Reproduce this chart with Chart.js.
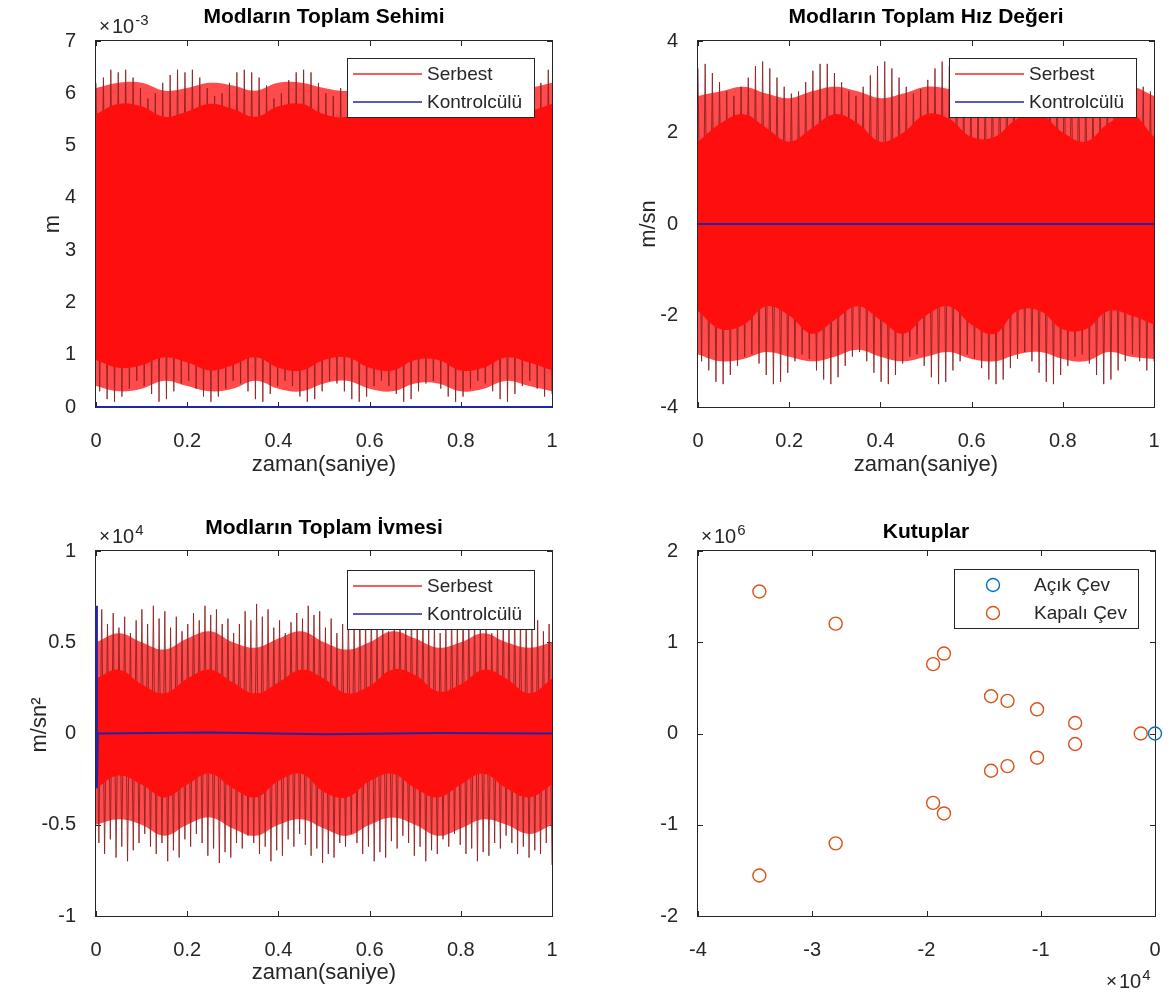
<!DOCTYPE html>
<html>
<head>
<meta charset="utf-8">
<title>Modların Toplam Cevabı</title>
<script src="https://cdn.jsdelivr.net/npm/chart.js@4.4.1/dist/chart.umd.min.js"></script>
<style>
  body { margin: 0; background: #fff; }
  #sahne { position: relative; width: 1169px; height: 999px; }
  #sahne canvas { position: absolute; }
</style>
</head>
<body>
<div id="sahne">
  <canvas id="grafikSehim" width="584" height="500" style="left:0;top:0"></canvas>
  <canvas id="grafikHiz" width="585" height="500" style="left:584px;top:0"></canvas>
  <canvas id="grafikIvme" width="584" height="499" style="left:0;top:500px"></canvas>
  <canvas id="grafikKutup" width="585" height="499" style="left:584px;top:500px"></canvas>
</div>
<script>
// Serbest cevap: her salınımın tepe ve dip değerleri (soldan sağa)
// Sehim (x10^-3 m)
const sehimTepe = [
  6.20, 6.30, 6.45, 6.40, 6.45, 6.30, 6.10, 5.90, 6.00, 6.20,
  6.35, 6.45, 6.40, 6.45, 6.30, 6.10, 5.95, 6.00, 6.20, 6.40,
  6.45, 6.40, 6.30, 6.15, 5.90, 6.00, 6.25, 6.40, 6.45, 6.40,
  6.20, 6.00, 5.95, 6.10, 6.30, 6.45, 6.45, 6.30, 6.10, 5.90,
  6.00, 6.20, 6.40, 6.45, 6.40, 6.25, 6.05, 5.90, 6.05, 6.25,
  6.40, 6.45, 6.35, 6.15, 5.95, 6.00, 6.20, 6.40, 6.45, 6.35,
  6.20, 6.45
];
const sehimDip = [
  0.30, 0.15, 0.10, 0.20, 0.35, 0.50, 0.40, 0.25, 0.10, 0.15,
  0.30, 0.45, 0.50, 0.35, 0.20, 0.10, 0.20, 0.35, 0.50, 0.45,
  0.30, 0.15, 0.10, 0.25, 0.40, 0.50, 0.40, 0.20, 0.10, 0.15,
  0.30, 0.50, 0.45, 0.30, 0.15, 0.10, 0.20, 0.40, 0.50, 0.40,
  0.25, 0.10, 0.15, 0.30, 0.45, 0.50, 0.35, 0.20, 0.10, 0.20,
  0.35, 0.50, 0.45, 0.30, 0.15, 0.10, 0.25, 0.40, 0.50, 0.35,
  0.20, 0.25
];
// Hız (m/sn)
const hizTepe = [
  3.40, 3.50, 3.30, 3.10, 2.90, 2.80, 3.00, 3.20, 3.45, 3.55,
  3.40, 3.20, 3.00, 2.85, 2.90, 3.10, 3.35, 3.50, 3.50, 3.30,
  3.10, 2.90, 2.80, 3.00, 3.25, 3.45, 3.55, 3.40, 3.20, 3.00,
  2.85, 2.95, 3.15, 3.40, 3.55, 3.45, 3.25, 3.05, 2.85, 2.90,
  3.10, 3.35, 3.50, 3.50, 3.30, 3.10, 2.90, 2.80, 3.00, 3.25,
  3.45, 3.55, 3.40, 3.20, 3.00, 2.85, 2.95, 3.15, 3.40, 3.50,
  3.45, 3.25, 3.00, 2.90
];
const hizDip = [
  -3.00, -3.20, -3.45, -3.50, -3.30, -3.10, -2.90, -2.85, -3.05, -3.30,
  -3.50, -3.45, -3.25, -3.00, -2.85, -2.95, -3.20, -3.40, -3.50, -3.35,
  -3.10, -2.90, -2.80, -3.00, -3.25, -3.45, -3.50, -3.30, -3.05, -2.90,
  -2.85, -3.10, -3.35, -3.50, -3.45, -3.20, -3.00, -2.85, -2.95, -3.15,
  -3.40, -3.50, -3.40, -3.15, -2.95, -2.80, -3.00, -3.25, -3.45, -3.50,
  -3.30, -3.10, -2.90, -2.85, -3.05, -3.30, -3.50, -3.40, -3.20, -3.00,
  -2.85, -3.00, -3.20, -3.00
];
// İvme (x10^4 m/sn^2)
const ivmeTepe = [
  0.55, 0.68, 0.60, 0.66, 0.58, 0.64, 0.55, 0.62, 0.68, 0.60,
  0.70, 0.63, 0.67, 0.58, 0.64, 0.56, 0.60, 0.66, 0.62, 0.70,
  0.65, 0.68, 0.60, 0.63, 0.55, 0.60, 0.67, 0.62, 0.71, 0.64,
  0.68, 0.58, 0.62, 0.55, 0.61, 0.66, 0.63, 0.70, 0.65, 0.67,
  0.58, 0.63, 0.55, 0.60, 0.67, 0.62, 0.71, 0.64, 0.68, 0.60,
  0.63, 0.56, 0.60, 0.66, 0.62, 0.70, 0.65, 0.68, 0.59, 0.62,
  0.55, 0.60, 0.67, 0.63, 0.70, 0.64, 0.67, 0.58, 0.62, 0.55,
  0.60, 0.66, 0.62, 0.68, 0.64, 0.66, 0.58, 0.62, 0.56, 0.60
];
const ivmeDip = [
  -0.60, -0.66, -0.58, -0.68, -0.62, -0.70, -0.64, -0.60, -0.55, -0.62,
  -0.66, -0.60, -0.70, -0.64, -0.68, -0.58, -0.62, -0.55, -0.60, -0.67,
  -0.63, -0.71, -0.65, -0.68, -0.60, -0.63, -0.56, -0.60, -0.66, -0.62,
  -0.70, -0.64, -0.67, -0.58, -0.62, -0.55, -0.61, -0.67, -0.63, -0.71,
  -0.66, -0.68, -0.60, -0.62, -0.55, -0.60, -0.66, -0.62, -0.70, -0.65,
  -0.68, -0.59, -0.63, -0.56, -0.60, -0.67, -0.62, -0.70, -0.64, -0.66,
  -0.58, -0.62, -0.55, -0.61, -0.66, -0.63, -0.70, -0.65, -0.67, -0.60,
  -0.63, -0.56, -0.60, -0.66, -0.62, -0.68, -0.64, -0.66, -0.60, -0.72
];

// Yoğun bölgenin kenarları (bantZaman anlarında): koyu kırmızı çekirdek ve açık kırmızı kuşak
const bantZaman = [0, 0.05, 0.1, 0.15, 0.2, 0.25, 0.3, 0.35, 0.4, 0.45, 0.5,
                   0.55, 0.6, 0.65, 0.7, 0.75, 0.8, 0.85, 0.9, 0.95, 1];
const sehimCekirdekUst = [5.6, 5.8, 5.75, 5.55, 5.65, 5.8, 5.7, 5.55, 5.75, 5.8, 5.6, 5.55, 5.75, 5.8, 5.6, 5.6, 5.8, 5.75, 5.55, 5.65, 5.8];
const sehimCekirdekAlt = [0.9, 0.75, 0.8, 0.95, 0.85, 0.7, 0.8, 0.95, 0.75, 0.7, 0.9, 0.95, 0.75, 0.7, 0.9, 0.9, 0.7, 0.75, 0.95, 0.85, 0.7];
const sehimKusakUst = [6.1, 6.2, 6.2, 6.05, 6.1, 6.2, 6.15, 6.05, 6.2, 6.2, 6.1, 6.05, 6.2, 6.2, 6.05, 6.1, 6.2, 6.2, 6.05, 6.1, 6.2];
const sehimKusakAlt = [0.4, 0.3, 0.35, 0.5, 0.4, 0.3, 0.35, 0.5, 0.35, 0.3, 0.45, 0.5, 0.35, 0.3, 0.45, 0.45, 0.3, 0.35, 0.5, 0.4, 0.3];

const hizCekirdekUst = [1.8, 2.2, 2.4, 2.1, 1.8, 2.1, 2.4, 2.2, 1.8, 2.0, 2.4, 2.3, 1.9, 1.9, 2.3, 2.4, 2.0, 1.8, 2.2, 2.4, 1.9];
const hizCekirdekAlt = [-1.9, -2.3, -2.2, -1.8, -2.0, -2.4, -2.1, -1.8, -2.1, -2.4, -2.0, -1.8, -2.2, -2.4, -1.9, -1.9, -2.3, -2.3, -1.9, -2.0, -2.2];
const hizKusakUst = [2.8, 2.9, 3.0, 2.85, 2.75, 2.9, 3.0, 2.9, 2.75, 2.85, 3.0, 2.95, 2.8, 2.8, 2.95, 3.0, 2.85, 2.75, 2.9, 3.0, 2.8];
const hizKusakAlt = [-2.85, -3.0, -2.95, -2.8, -2.9, -3.0, -2.9, -2.75, -2.9, -3.0, -2.9, -2.8, -2.95, -3.0, -2.85, -2.8, -2.95, -3.0, -2.8, -2.9, -2.95];

const ivmeCekirdekUst = [0.3, 0.35, 0.27, 0.22, 0.3, 0.35, 0.28, 0.22, 0.28, 0.35, 0.3, 0.22, 0.26, 0.35, 0.32, 0.23, 0.27, 0.35, 0.3, 0.22, 0.3];
const ivmeCekirdekAlt = [-0.3, -0.23, -0.28, -0.35, -0.28, -0.22, -0.3, -0.35, -0.26, -0.22, -0.32, -0.35, -0.26, -0.22, -0.3, -0.35, -0.28, -0.22, -0.3, -0.35, -0.28];
const ivmeKusakUst = [0.5, 0.55, 0.5, 0.46, 0.52, 0.56, 0.5, 0.47, 0.52, 0.56, 0.5, 0.46, 0.5, 0.56, 0.52, 0.47, 0.5, 0.55, 0.5, 0.47, 0.5];
const ivmeKusakAlt = [-0.5, -0.47, -0.5, -0.56, -0.5, -0.46, -0.52, -0.56, -0.5, -0.47, -0.52, -0.56, -0.5, -0.46, -0.5, -0.56, -0.52, -0.47, -0.5, -0.55, -0.5];

// Kontrolcülü cevap
const kontrolZaman = [0, 0.002, 0.004, 0.25, 0.5, 0.75, 1];
const kontrolSehim = [0, 0, 0, 0, 0, 0, 0];
const kontrolHiz = [0, 0, 0, 0, 0, 0, 0];
const kontrolIvme = [0.7, -0.3, 0, 0.005, -0.004, 0.003, 0];

// Kutuplar (reel, sanal)
const acikReel = [0];
const acikSanal = [0];
const kapaliReel = [-34630, -27950, -19420, -18470, -14350, -12910, -10320, -6990, -1250,
                    -6990, -10320, -12910, -14350, -19420, -18470, -27950, -34630];
const kapaliSanal = [1556000, 1204000, 760000, 876000, 408000, 358000, 265000, 115000, 0,
                     -115000, -265000, -358000, -408000, -760000, -876000, -1204000, -1556000];

const YAZI = '"Liberation Sans", Arial, Helvetica, sans-serif';
const GRI = '#262626';
const KIRMIZI = 'rgb(255,14,14)';
const PEMBE = 'rgb(255,75,75)';
const KOYU_KIRMIZI = 'rgba(140,30,30,0.85)';
const MAVI = '#2424a8';

// tepe ve dipleri sırayla dizerek çizgiyi kur
function salinim(tepe, dip) {
  const n = Math.min(tepe.length, dip.length);
  const pts = [];
  for (let i = 0; i < n; i++) {
    pts.push({ x: (2 * i) / (2 * n - 1), y: tepe[i] });
    pts.push({ x: (2 * i + 1) / (2 * n - 1), y: dip[i] });
  }
  return pts;
}
const eslestir = (xs, ys) => xs.map((x, i) => ({ x, y: ys[i] }));
const yuvarla = v => String(Math.round(v * 1000) / 1000);

function usluYaz(ctx, x, y, us) {
  ctx.textAlign = 'left';
  ctx.textBaseline = 'alphabetic';
  ctx.fillStyle = GRI;
  ctx.font = '19px ' + YAZI;
  ctx.fillText('×', x - 1, y - 1);
  ctx.font = '20px ' + YAZI;
  ctx.fillText('10', x + 12, y);
  const w = ctx.measureText('10').width;
  ctx.font = '15px ' + YAZI;
  ctx.fillText(us, x + 13 + w, y - 8);
}

// MATLAB görünümlü çerçeve, içe dönük tikler, lejant ve yazılar
const matlabSusu = {
  id: 'matlab',
  beforeDatasetsDraw(chart) {
    const { ctx, chartArea: a, scales } = chart;
    const l = Math.round(a.left), r = Math.round(a.right), t = Math.round(a.top), b = Math.round(a.bottom);
    ctx.save();
    ctx.strokeStyle = GRI;
    ctx.lineWidth = 1;
    ctx.beginPath();
    scales.x.ticks.forEach(tk => {
      const px = Math.round(scales.x.getPixelForValue(tk.value)) + 0.5;
      ctx.moveTo(px, b); ctx.lineTo(px, b - 5);
      ctx.moveTo(px, t); ctx.lineTo(px, t + 5);
    });
    scales.y.ticks.forEach(tk => {
      const py = Math.round(scales.y.getPixelForValue(tk.value)) + 0.5;
      ctx.moveTo(l, py); ctx.lineTo(l + 5, py);
      ctx.moveTo(r, py); ctx.lineTo(r - 5, py);
    });
    ctx.stroke();
    ctx.strokeRect(l - 0.5, t - 0.5, r - l + 1, b - t + 1);
    ctx.restore();
  },
  afterDatasetsDraw(chart, args, o) {
    const ctx = chart.ctx;
    const L = o.lejant;
    if (!L) return;
    ctx.save();
    ctx.fillStyle = '#fff';
    ctx.fillRect(L.x, L.y, L.w, L.h);
    ctx.strokeStyle = GRI;
    ctx.lineWidth = 1;
    ctx.strokeRect(L.x + 0.5, L.y + 0.5, L.w, L.h);
    ctx.font = '19px ' + YAZI;
    ctx.textAlign = 'left';
    ctx.textBaseline = 'middle';
    L.ogeler.forEach((og, i) => {
      const yy = L.y + 16 + i * 28;
      ctx.strokeStyle = og.renk;
      if (og.tur === 'cizgi') {
        ctx.lineWidth = 1.5;
        ctx.beginPath();
        ctx.moveTo(L.x + 6, yy); ctx.lineTo(L.x + 75, yy);
        ctx.stroke();
      } else {
        ctx.lineWidth = 1.4;
        ctx.beginPath();
        ctx.arc(L.x + 39, yy, 6.5, 0, Math.PI * 2);
        ctx.stroke();
      }
      ctx.fillStyle = GRI;
      ctx.fillText(og.etiket, L.x + 80, yy + 1);
    });
    ctx.restore();
  },
  afterDraw(chart, args, o) {
    const ctx = chart.ctx;
    ctx.save();
    if (o.baslik) {
      ctx.font = 'bold 21px ' + YAZI;
      ctx.fillStyle = '#000';
      ctx.textAlign = 'center';
      ctx.textBaseline = 'middle';
      ctx.fillText(o.baslik.text, o.baslik.x, o.baslik.y);
    }
    if (o.xBaslik) {
      ctx.font = '22px ' + YAZI;
      ctx.fillStyle = GRI;
      ctx.textAlign = 'center';
      ctx.textBaseline = 'middle';
      ctx.fillText(o.xBaslik.text, o.xBaslik.x, o.xBaslik.y);
    }
    if (o.yBaslik) {
      ctx.translate(o.yBaslik.x, o.yBaslik.y);
      ctx.rotate(-Math.PI / 2);
      ctx.font = '22px ' + YAZI;
      ctx.fillStyle = GRI;
      ctx.textAlign = 'center';
      ctx.textBaseline = 'middle';
      ctx.fillText(o.yBaslik.text, 0, 0);
      ctx.setTransform(1, 0, 0, 1, 0, 0);
    }
    (o.usler || []).forEach(u => usluYaz(ctx, u.x, u.y, u.us));
    ctx.restore();
  }
};

function eksen(kutu, min, max, adim, bolen) {
  // kutu: grafik alanının tuval içindeki sınırları
  return {
    x: {
      type: 'linear', min: min[0], max: max[0],
      grid: { display: false }, border: { display: false },
      ticks: { stepSize: adim[0], padding: 14, color: GRI, font: { family: YAZI, size: 20 },
               callback: v => yuvarla(v / bolen[0]) },
      afterFit: s => { s.height = kutu.H - kutu.B; s.paddingLeft = 0; s.paddingRight = 0; }
    },
    y: {
      type: 'linear', min: min[1], max: max[1],
      grid: { display: false }, border: { display: false },
      ticks: { stepSize: adim[1], padding: 12, color: GRI, font: { family: YAZI, size: 20 },
               callback: v => yuvarla(v / bolen[1]) },
      afterFit: s => { s.width = kutu.L; s.paddingTop = 0; s.paddingBottom = 0; }
    }
  };
}

function zamanGrafigi(id, kutu, tepe, dip, cekUst, cekAlt, kusUst, kusAlt, kontrol, ymin, ymax, yadim, susler) {
  return new Chart(document.getElementById(id), {
    type: 'line',
    data: {
      datasets: [
        { label: 'Kontrolcülü', data: eslestir(kontrolZaman, kontrol), borderColor: MAVI,
          borderWidth: 2, pointRadius: 0, order: 0, clip: false },
        { label: 'kuşak alt', data: eslestir(bantZaman, kusAlt), borderWidth: 0,
          pointRadius: 0, order: 5, fill: false, tension: 0.4 },
        { label: 'kuşak üst', data: eslestir(bantZaman, kusUst), borderWidth: 0,
          pointRadius: 0, order: 5, fill: { target: 1 }, backgroundColor: PEMBE, tension: 0.4 },
        { label: 'Serbest', data: salinim(tepe, dip), borderColor: KOYU_KIRMIZI,
          borderWidth: 1, pointRadius: 0, order: 3 },
        { label: 'çekirdek alt', data: eslestir(bantZaman, cekAlt), borderWidth: 0,
          pointRadius: 0, order: 2, fill: false, tension: 0.4 },
        { label: 'çekirdek üst', data: eslestir(bantZaman, cekUst), borderWidth: 0,
          pointRadius: 0, order: 2, fill: { target: 4 }, backgroundColor: KIRMIZI, tension: 0.4 }
      ]
    },
    options: {
      responsive: false,
      animation: false,
      devicePixelRatio: 1,
      layout: { padding: { left: 0, top: kutu.T, right: kutu.W - kutu.R, bottom: 0 } },
      scales: eksen(kutu, [0, ymin], [1, ymax], [0.2, yadim], [1, 1]),
      plugins: {
        legend: { display: false },
        tooltip: { enabled: false },
        matlab: Object.assign({
          lejant: { x: susler.lejantX, y: susler.lejantY, w: 187, h: 59, ogeler: [
            { tur: 'cizgi', renk: 'rgb(235,40,40)', etiket: 'Serbest' },
            { tur: 'cizgi', renk: MAVI, etiket: 'Kontrolcülü' }
          ] }
        }, susler)
      }
    },
    plugins: [matlabSusu]
  });
}

zamanGrafigi('grafikSehim', { L: 96, R: 552, T: 41, B: 407, W: 584, H: 500 },
  sehimTepe, sehimDip, sehimCekirdekUst, sehimCekirdekAlt, sehimKusakUst, sehimKusakAlt,
  kontrolSehim, 0, 7, 1, {
    baslik: { text: 'Modların Toplam Sehimi', x: 324, y: 17 },
    xBaslik: { text: 'zaman(saniye)', x: 324, y: 465 },
    yBaslik: { text: 'm', x: 53, y: 224 },
    usler: [{ x: 100, y: 33, us: '-3' }],
    lejantX: 347, lejantY: 58
  });

zamanGrafigi('grafikHiz', { L: 114, R: 570, T: 41, B: 407, W: 585, H: 500 },
  hizTepe, hizDip, hizCekirdekUst, hizCekirdekAlt, hizKusakUst, hizKusakAlt,
  kontrolHiz, -4, 4, 2, {
    baslik: { text: 'Modların Toplam Hız Değeri', x: 342, y: 17 },
    xBaslik: { text: 'zaman(saniye)', x: 342, y: 465 },
    yBaslik: { text: 'm/sn', x: 65, y: 224 },
    lejantX: 365, lejantY: 58
  });

zamanGrafigi('grafikIvme', { L: 96, R: 552, T: 51, B: 416, W: 584, H: 499 },
  ivmeTepe, ivmeDip, ivmeCekirdekUst, ivmeCekirdekAlt, ivmeKusakUst, ivmeKusakAlt,
  kontrolIvme, -1, 1, 0.5, {
    baslik: { text: 'Modların Toplam İvmesi', x: 324, y: 28 },
    xBaslik: { text: 'zaman(saniye)', x: 324, y: 473 },
    yBaslik: { text: 'm/sn²', x: 40, y: 225 },
    usler: [{ x: 100, y: 43, us: '4' }],
    lejantX: 347, lejantY: 70
  });

// Kutuplar
const kutupKutu = { L: 114, R: 571, T: 51, B: 416, W: 585, H: 499 };
new Chart(document.getElementById('grafikKutup'), {
  type: 'scatter',
  data: {
    datasets: [
      { label: 'Açık Çev', data: eslestir(acikReel, acikSanal), borderColor: '#0072BD',
        backgroundColor: 'rgba(0,0,0,0)', pointRadius: 6.5, borderWidth: 1.4, clip: false },
      { label: 'Kapalı Çev', data: eslestir(kapaliReel, kapaliSanal), borderColor: '#D95319',
        backgroundColor: 'rgba(0,0,0,0)', pointRadius: 6.5, borderWidth: 1.4, clip: false }
    ]
  },
  options: {
    responsive: false,
    animation: false,
    devicePixelRatio: 1,
    layout: { padding: { left: 0, top: kutupKutu.T, right: kutupKutu.W - kutupKutu.R, bottom: 0 } },
    scales: eksen(kutupKutu, [-40000, -2000000], [0, 2000000], [10000, 1000000], [10000, 1000000]),
    plugins: {
      legend: { display: false },
      tooltip: { enabled: false },
      matlab: {
        baslik: { text: 'Kutuplar', x: 342, y: 32 },
        usler: [{ x: 118, y: 43, us: '6' }, { x: 523, y: 488, us: '4' }],
        lejant: { x: 370, y: 69, w: 184, h: 59, ogeler: [
          { tur: 'daire', renk: '#0072BD', etiket: 'Açık Çev' },
          { tur: 'daire', renk: '#D95319', etiket: 'Kapalı Çev' }
        ] }
      }
    }
  },
  plugins: [matlabSusu]
});
</script>
</body>
</html>
